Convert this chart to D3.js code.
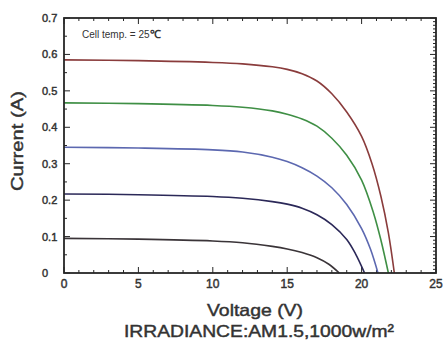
<!DOCTYPE html>
<html>
<head>
<meta charset="utf-8">
<script src="https://cdn.jsdelivr.net/npm/d3@7"></script>
<style>
  html, body { margin: 0; padding: 0; background: #fff; }
  svg { display: block; }
  text { font-family: "Liberation Sans", Arial, sans-serif; fill: #333; }
  .heavy { stroke: #333; stroke-width: 0.45px; }
</style>
</head>
<body>
<svg id="chart" width="445" height="347"></svg>
<script>
// I-V curves of the module at five irradiance levels, [voltage V, current A]
const curveA = [[0,0.585],[5,0.583],[10,0.578],[12,0.574],[14,0.566],[15,0.559],[16,0.547],[17,0.527],[18,0.492],[19,0.442],[20,0.375],[20.7,0.30],[21.3,0.21],[21.8,0.11],[22.2,0]];
const curveB = [[0,0.467],[5,0.465],[10,0.460],[12,0.455],[14,0.445],[15,0.436],[16,0.423],[17,0.403],[18,0.370],[19,0.323],[20,0.255],[20.8,0.165],[21.3,0.09],[21.8,0]];
const curveC = [[0,0.345],[5,0.343],[10,0.338],[12,0.332],[14,0.318],[15,0.306],[16,0.289],[17,0.266],[18,0.234],[19,0.188],[20,0.122],[20.6,0.065],[21.1,0]];
const curveD = [[0,0.217],[5,0.215],[10,0.210],[12,0.205],[14,0.196],[15,0.189],[16,0.178],[17,0.160],[18,0.133],[19,0.092],[19.6,0.052],[20.2,0]];
const curveE = [[0,0.095],[5,0.093],[10,0.088],[12,0.083],[14,0.073],[15,0.066],[16,0.056],[17,0.042],[17.8,0.024],[18.5,0]];
const curveColors = ["#8a3c3c", "#3f8f45", "#5c68b0", "#2b2858", "#3a3438"];

const xTicks = [0, 5, 10, 15, 20, 25];
const yTicks = [0, 0.1, 0.2, 0.3, 0.4, 0.5, 0.6, 0.7];
const yTickLabels = ["0", "0.1", "0.2", "0.3", "0.4", "0.5", "0.6", "0.7"];

const svg = d3.select("#chart");
const plotL = 64, plotR = 436, plotT = 18, plotB = 273;

const x = d3.scaleLinear().domain([0, 25]).range([plotL, plotR]);
const y = d3.scaleLinear().domain([0, 0.7]).range([plotB, plotT]);

const axisColor = "#262626";
const g = svg.append("g");

// minor ticks, pointing inward on every side
const xMinor = d3.range(0, 25.01, 1);
const yMinorL = d3.range(0, 0.701, 0.05);
const yMinorR = d3.range(0, 0.701, 0.01);

g.selectAll(".xmb").data(xMinor).join("line")
  .attr("x1", d => x(d)).attr("x2", d => x(d))
  .attr("y1", plotB).attr("y2", d => plotB - (d % 5 === 0 ? 6 : 3))
  .attr("stroke", axisColor).attr("stroke-width", 1);
g.selectAll(".xmt").data(xMinor).join("line")
  .attr("x1", d => x(d)).attr("x2", d => x(d))
  .attr("y1", plotT).attr("y2", d => plotT + (d % 5 === 0 ? 6 : 3))
  .attr("stroke", axisColor).attr("stroke-width", 1);
g.selectAll(".yml").data(yMinorL).join("line")
  .attr("y1", d => y(d)).attr("y2", d => y(d))
  .attr("x1", plotL).attr("x2", (d, i) => plotL + (i % 2 === 0 ? 6 : 3))
  .attr("stroke", axisColor).attr("stroke-width", 1);
g.selectAll(".ymr").data(yMinorR).join("line")
  .attr("y1", d => y(d)).attr("y2", d => y(d))
  .attr("x1", plotR).attr("x2", (d, i) => plotR - (i % 10 === 0 ? 6 : 3))
  .attr("stroke", axisColor).attr("stroke-width", 1);

// curves
const line = d3.line()
  .x(d => x(d[0])).y(d => y(d[1]))
  .curve(d3.curveCatmullRom.alpha(0.5));

[curveA, curveB, curveC, curveD, curveE].forEach((c, i) => {
  svg.append("path").datum(c)
    .attr("d", line)
    .attr("fill", "none")
    .attr("stroke", curveColors[i])
    .attr("stroke-width", 1.6);
});

// frame
svg.append("rect")
  .attr("x", plotL).attr("y", plotT)
  .attr("width", plotR - plotL).attr("height", plotB - plotT)
  .attr("fill", "none").attr("stroke", axisColor).attr("stroke-width", 1.8);

// tick labels
svg.selectAll(".xl").data(xTicks).join("text")
  .attr("class", "heavy")
  .attr("x", d => x(d)).attr("y", plotB + 15)
  .attr("text-anchor", "middle")
  .attr("font-size", 12)
  .text(d => d);

svg.selectAll(".yl").data(yTicks).join("text")
  .attr("class", "heavy")
  .attr("x", 42).attr("y", d => y(d) + 4)
  .attr("text-anchor", "start")
  .attr("font-size", 11)
  .text((d, i) => yTickLabels[i]);

// axis titles
svg.append("text")
  .attr("class", "heavy")
  .attr("transform", "translate(23, 141) rotate(-90)")
  .attr("text-anchor", "middle")
  .attr("font-size", 17)
  .attr("textLength", 100).attr("lengthAdjust", "spacingAndGlyphs")
  .text("Current (A)");

svg.append("text")
  .attr("class", "heavy")
  .attr("x", 255).attr("y", 316)
  .attr("text-anchor", "middle")
  .attr("font-size", 17)
  .attr("textLength", 96).attr("lengthAdjust", "spacingAndGlyphs")
  .text("Voltage (V)");

svg.append("text")
  .attr("class", "heavy")
  .attr("x", 259).attr("y", 337)
  .attr("text-anchor", "middle")
  .attr("font-size", 17)
  .attr("textLength", 270).attr("lengthAdjust", "spacingAndGlyphs")
  .text("IRRADIANCE:AM1.5,1000w/m²");

// annotation inside the plot
const note = svg.append("text")
  .attr("x", 82).attr("y", 38)
  .attr("font-size", 10);
note.append("tspan").text("Cell temp. = 25");
note.append("tspan").attr("font-weight", "bold").attr("font-size", 11).text("℃");
</script>
</body>
</html>
